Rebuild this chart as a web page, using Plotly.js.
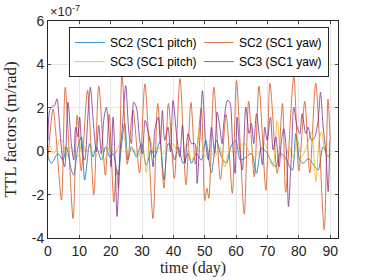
<!DOCTYPE html>
<html>
<head>
<meta charset="utf-8">
<script src="https://cdn.plot.ly/plotly-3.0.1.min.js"></script>
<style>html,body{margin:0;padding:0;background:#fff;}#chart{width:374px;height:280px;}</style>
</head>
<body>
<div id="chart"></div>
<script>
// Values in units of 1e-7 m/rad; time in days
const seriesNames = ["SC2 (SC1 pitch)", "SC2 (SC1 yaw)", "SC3 (SC1 pitch)", "SC3 (SC1 yaw)"];

const sc2PitchDays = [0,1.06,3.19,4.79,5.85,7.45,8.19,9.57,10.64,11.7,13.3,14.36,15.43,17.02,18.4,19.68,20.74,22.34,23.4,24.47,25.53,26.6,28.19,29.79,31.38,32.98,34.04,35.64,37.02,38.3,39.36,40.43,41.49,43.09,44.68,45.74,47.34,48.94,50.32,52.13,53.72,55.32,56.91,58.3,59.89,61.38,63.3,64.89,66.49,68.09,69.68,70.96,72.66,73.94,75.53,77.13,77.98,79.04,80.32,81.38,82.98,85.11,86.17,87.77,89.36,90];
const sc2PitchVals = [-0.26,-0.56,-0.11,-0.41,0.2,-0.87,-1.1,0.2,0.66,-1.33,0.35,-0.26,0.2,-0.41,0.2,-0.26,-0.11,-1.1,0.2,1.3,-0.41,0.2,-0.26,0.35,-0.64,0.05,-0.26,0.43,-1.33,0.35,0.12,-0.41,0.2,-0.56,-0.11,-0.56,-0.11,-0.41,0.5,-0.99,0.5,-0.26,-0.56,0.2,0.5,-0.41,-0.26,-0.11,-1.02,0.12,-0.03,-0.41,-0.72,-0.11,-0.26,-0.72,-0.87,0.81,-0.41,-0.56,-0.34,-0.72,-0.87,0.2,-0.26,-0.11];

const sc2YawDays = [0,1.6,2.4,4.3,5.5,8.0,9.3,10.6,12.6,14.6,16.2,18.3,19.5,21.0,21.8,22.5,23.6,25.3,27.1,29.2,30.9,33.5,35.0,37.0,38.4,40.3,42.1,44.0,45.6,47.0,48.9,50.0,50.7,51.3,52.9,55.0,56.8,58.8,60.1,62.6,64.0,65.8,67.3,69.5,70.8,73.1,74.8,75.8,78.4,80.0,81.9,83.5,85.4,88.1,89.3,90];
const sc2YawVals = [-0.3,1.95,1.0,-2.25,2.95,-3.1,1.65,-0.9,2.8,-2.0,3.0,-1.1,1.7,-2.35,-0.8,-1.7,3.6,-0.6,1.9,-1.0,3.1,-3.1,2.2,-1.7,2.2,-1.25,3.35,-1.55,2.25,-0.6,2.0,-2.28,-1.7,-2.17,2.95,-1.3,1.7,-1.94,3.25,-2.9,2.3,-1.18,3.0,-1.8,3.13,-1.02,2.2,-1.9,3.44,-0.9,2.3,-1.0,3.13,-3.62,2.4,0.5];

const sc3PitchDays = [0,0.74,1.6,2.66,3.72,4.79,5.85,6.91,7.98,9.57,10.96,12.02,13.3,14.89,16.49,18.09,19.68,21.28,22.87,24.15,25.53,27.13,28.72,30.11,31.38,32.45,33.72,35.11,36.7,38.3,39.89,41.49,42.87,44.36,45.74,47.34,48.4,50,51.6,53.19,54.79,56.38,57.98,59.57,61.17,62.77,64.36,65.96,67.55,69.15,70.53,71.81,73.09,74.47,75.53,76.91,78.19,79.57,80.85,82.45,84.04,85.43,86.49,87.23,88.3,89.36,90];
const sc3PitchVals = [0.12,0.24,-0.11,0.05,0.53,0.43,-0.26,0.2,0.05,-0.26,0.5,-0.03,0.2,-0.26,-0.03,-0.41,0.2,-0.11,0.35,0.66,-0.11,0.12,-0.26,0.2,-0.99,0.66,-0.03,0.2,-0.11,0.05,0.35,-0.11,-0.26,0.35,-0.41,0.05,1.1,-0.26,0.05,-0.26,0.2,-0.72,0.05,-0.11,0.2,0.35,-0.11,-0.26,0.05,0.35,-0.26,-0.72,1.4,-0.26,-0.41,0.2,-0.26,0.5,-0.26,0.2,0.89,-1.4,0.5,0.89,0.05,-0.26,-0.11];

const sc3YawDays = [0,0.53,1.38,2.13,2.87,3.72,4.57,5.32,6.38,7.45,8.19,8.83,9.57,10.1,10.96,11.7,12.77,13.51,14.57,15.43,16.17,17.02,17.77,18.62,19.47,20.11,20.74,21.38,22.02,22.87,23.72,24.79,25.85,26.6,27.34,28.19,29.26,30.11,30.96,31.6,32.66,33.51,34.04,35.11,35.85,36.49,37.23,38.3,39.04,39.89,40.96,42.02,42.87,43.72,44.68,45.74,46.81,47.55,48.4,49.26,50.32,51.17,52.13,53.19,53.94,54.79,55.53,56.06,57.23,57.98,58.83,59.68,60.32,60.96,62.02,63.09,64.15,64.89,65.64,66.49,67.55,68.4,69.15,69.89,70.96,71.81,72.66,73.72,74.47,75.21,76.06,76.7,77.66,78.4,79.47,80.32,81.06,82.23,82.98,84.04,85.11,86.17,86.91,87.77,88.62,89.36,89.89];
const sc3YawVals = [0.5,1.88,2.06,2.11,2.41,1.11,-0.26,-0.72,2.26,0.35,-0.41,1.11,0.66,1.57,-0.11,-0.41,1.73,2.95,1.11,-0.03,1.19,-0.11,1.42,2.03,0.81,-0.72,1.57,-0.26,-3.01,-0.26,1.11,3.02,0.81,0.35,2.26,2.03,0.5,-0.11,1.42,1.11,0.35,-0.72,0.97,1.57,0.35,1.88,0.5,1.11,-0.03,2.34,0.81,-0.26,1.19,-0.56,0.81,0.35,0.35,-1.48,0.5,2.79,0.35,-0.41,1.11,-0.11,1.8,1.11,0.35,1.27,2.34,2.26,0.5,-1.02,1.57,0.35,-0.87,2.03,0.81,1.27,0.35,1.73,0.5,-0.64,1.11,0.5,1.57,0.05,0.66,-0.72,0.5,1.04,-0.03,-2.55,-0.11,2.03,1.11,0.81,1.73,0.81,1.11,0.5,0.66,1.42,2.72,1.11,-0.03,-1.86,0.5];

const xTicks = [0,10,20,30,40,50,60,70,80,90];
const yTicks = [-4,-2,0,2,4,6];
const colors = ["#0072BD","#D95319","#EDB120","#7E2F8E"];

const mk = (x, y, i) => ({
  x: x, y: y, name: seriesNames[i], type: "scatter", mode: "lines",
  line: {color: colors[i], width: 0.8, shape: "spline", smoothing: 0.8}
});

const data = [
  mk(sc2PitchDays, sc2PitchVals, 0),
  mk(sc2YawDays, sc2YawVals, 1),
  mk(sc3PitchDays, sc3PitchVals, 2),
  mk(sc3YawDays, sc3YawVals, 3)
];

const axisCommon = {
  showline: true, linecolor: "#262626", linewidth: 1, mirror: "ticks",
  ticks: "inside", ticklen: 3, tickcolor: "#262626", tickwidth: 0.8,
  showgrid: true, gridcolor: "#e6e6e6", gridwidth: 1, zeroline: false,
  tickfont: {family: "Liberation Sans, Arial, sans-serif", size: 14, color: "#262626"}
};

const layout = {
  width: 374, height: 280,
  margin: {l: 48, r: 36, t: 21, b: 42},
  paper_bgcolor: "#fff", plot_bgcolor: "#fff",
  font: {family: "Liberation Sans, Arial, sans-serif", color: "#262626"},
  xaxis: Object.assign({}, axisCommon, {
    range: [0, 92.5], tickvals: xTicks, ticktext: xTicks.map(String),
    title: {text: "time (day)", font: {family: "Liberation Serif, DejaVu Serif, serif", size: 16, color: "#262626"}, standoff: 4}
  }),
  yaxis: Object.assign({}, axisCommon, {
    range: [-4, 6], tickvals: yTicks, ticktext: yTicks.map(String),
    title: {text: "TTL factors (m/rad)", font: {family: "Liberation Serif, DejaVu Serif, serif", size: 17, color: "#262626"}, standoff: 10}
  }),
  showlegend: true,
  legend: {
    orientation: "h", x: 0.072, y: 0.972, xanchor: "left", yanchor: "top",
    bgcolor: "#fff", bordercolor: "#262626", borderwidth: 1,
    font: {family: "Liberation Sans, Arial, sans-serif", size: 12, color: "#000"},
    entrywidth: 84, entrywidthmode: "pixels", tracegroupgap: 0, itemwidth: 30
  },
  annotations: [{
    xref: "paper", yref: "paper", x: 0, y: 1, xanchor: "left", yanchor: "bottom",
    text: "×10<sup>-7</sup>", showarrow: false,
    font: {family: "Liberation Sans, Arial, sans-serif", size: 13, color: "#262626"}
  }]
};

Plotly.newPlot("chart", data, layout, {displayModeBar: false, staticPlot: true});
</script>
</body>
</html>
